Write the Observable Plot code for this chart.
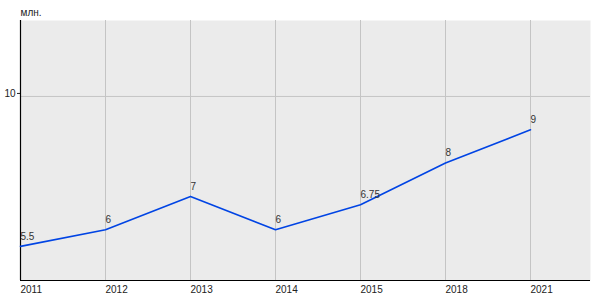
<!DOCTYPE html>
<html>
<head>
<meta charset="utf-8">
<script src="https://cdn.jsdelivr.net/npm/d3@7"></script>
<script src="https://cdn.jsdelivr.net/npm/@observablehq/plot@0.6"></script>
<style>
  html, body { margin: 0; padding: 0; background: #fff; }
  #chart svg { display: block; }
</style>
</head>
<body>
<div id="chart"></div>
<script>
const years = ["2011", "2012", "2013", "2014", "2015", "2018", "2021"];
const values = [5.5, 6, 7, 6, 6.75, 8, 9];
const valueLabels = ["5.5", "6", "7", "6", "6.75", "8", "9"];
const yTicks = [10];
const unitLabel = "млн.";

const data = years.map((y, i) => ({i, year: y, value: values[i], label: valueLabels[i]}));
const idx = years.map((_, i) => i);

const chart = Plot.plot({
  width: 600,
  height: 300,
  marginLeft: 20,
  marginRight: 10,
  marginTop: 20,
  marginBottom: 20,
  style: {fontFamily: "'Liberation Sans', Arial, sans-serif", fontSize: "10px", color: "#222", background: "#fff"},
  x: {type: "linear", domain: [0, 570 / 85]},
  y: {domain: [4.475, 12.28]},
  marks: [
    Plot.frame({fill: "#ebebeb", stroke: "none"}),
    Plot.ruleX(idx, {x: d => d, stroke: "#c4c4c4", strokeWidth: 1}),
    Plot.ruleY(yTicks, {stroke: "#c4c4c4", strokeWidth: 1}),
    Plot.axisX({ticks: idx, tickFormat: i => years[i], tickSize: 0, textAnchor: "start", tickPadding: 5, label: null, fill: "#222"}),
    Plot.axisY({ticks: yTicks, tickSize: 3, tickPadding: 2, label: null, dy: -3, fill: "#222"}),
    Plot.ruleX([0], {stroke: "#000", strokeWidth: 1.2}),
    Plot.ruleY([4.475], {stroke: "#000", strokeWidth: 1.2}),
    Plot.line(data, {x: "i", y: "value", stroke: "#0044e4", strokeWidth: 1.6}),
    Plot.text(data, {x: "i", y: "value", text: "label", textAnchor: "start", dy: -10, fill: "#333"}),
    Plot.text([unitLabel], {frameAnchor: "top-left", textAnchor: "start", dy: -12, fill: "#222"})
  ]
});
document.getElementById("chart").appendChild(chart);
</script>
</body>
</html>
